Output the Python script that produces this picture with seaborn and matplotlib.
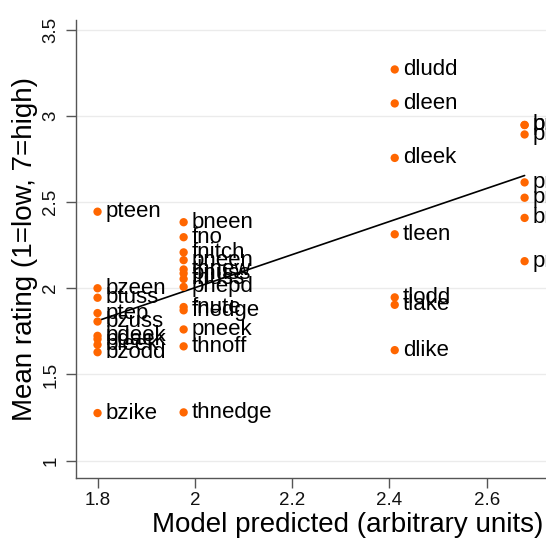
import matplotlib
matplotlib.use("Agg")
import matplotlib.pyplot as plt
import seaborn as sns
import numpy as np
import pandas as pd

words = ["pteen", "bzeen", "btuss", "ptep", "bzuss", "bdeek", "bdaek", "bleek", "bzodd", "bzike",
         "bneen", "fno", "fnitch", "pneen", "thnew", "pnuss", "fnuss", "phepd", "fnute", "fnedge",
         "pneek", "thnoff", "thnedge",
         "dludd", "dleen", "dleek", "tleen", "tlodd", "tlake", "dlike",
         "bnudd", "pnudd", "pneen", "pneek", "pnike", "bneen", "pnodd"]
predicted = [1.80] * 10 + [1.977] * 13 + [2.411] * 7 + [2.678] * 7
rating = [2.444, 2.000, 1.945, 1.856, 1.807, 1.724, 1.705, 1.672, 1.629, 1.276,
          2.383, 2.296, 2.208, 2.163, 2.109, 2.086, 2.054, 2.008, 1.891, 1.872,
          1.761, 1.663, 1.280,
          3.269, 3.072, 2.756, 2.313, 1.947, 1.904, 1.641,
          2.947, 2.947, 2.892, 2.614, 2.525, 2.408, 2.157]

df = pd.DataFrame({"word": words, "predicted": predicted, "rating": rating})

sns.set_theme(style="white")
plt.rcParams["font.family"] = ["Liberation Sans", "DejaVu Sans"]

fig = plt.figure(figsize=(5.46, 5.40), dpi=100)
ax = fig.add_axes([0.139, 0.115, 0.861, 0.848])

ax.set_xlim(1.7555, 2.722)
ax.set_ylim(0.90, 3.556)
ax.set_yticks([1, 1.5, 2, 2.5, 3, 3.5])
ax.set_yticklabels(["1", "1.5", "2", "2.5", "3", "3.5"])
ax.set_xticks([1.8, 2.0, 2.2, 2.4, 2.6])
ax.set_xticklabels(["1.8", "2", "2.2", "2.4", "2.6"])
ax.yaxis.grid(True, color="#ebebeb", linewidth=1.0)
ax.set_axisbelow(True)

sns.regplot(data=df, x="predicted", y="rating", scatter=False, ci=None,
            line_kws={"color": "black", "linewidth": 1.2}, ax=ax)
sns.scatterplot(data=df, x="predicted", y="rating", color="#ff6600", s=36,
                edgecolor="none", ax=ax, zorder=3)

for w, xv, yv in zip(df["word"], df["predicted"], df["rating"]):
    ax.annotate(w, (xv, yv), xytext=(6, 0), textcoords="offset points",
                ha="left", va="center", fontsize=16, color="#000000",
                annotation_clip=False)

for side in ["top", "right"]:
    ax.spines[side].set_visible(False)
for side in ["left", "bottom"]:
    ax.spines[side].set_color("#555555")
    ax.spines[side].set_linewidth(1.0)

ax.tick_params(axis="both", which="major", direction="out", length=7, width=1,
               color="#555555", labelsize=13.5, labelcolor="#111111", bottom=True, left=True)
ax.tick_params(axis="y", pad=5)
for lab in ax.get_yticklabels():
    lab.set_rotation(90)
    lab.set_va("center")

ax.set_xlabel("Model predicted (arbitrary units)", fontsize=20, color="#000000")
ax.set_ylabel("Mean rating (1=low, 7=high)", fontsize=20, color="#000000", labelpad=3)
ax.xaxis.set_label_coords(0.995, -0.075)
ax.xaxis.label.set_ha("right")

fig.savefig("out.png", dpi=100)
